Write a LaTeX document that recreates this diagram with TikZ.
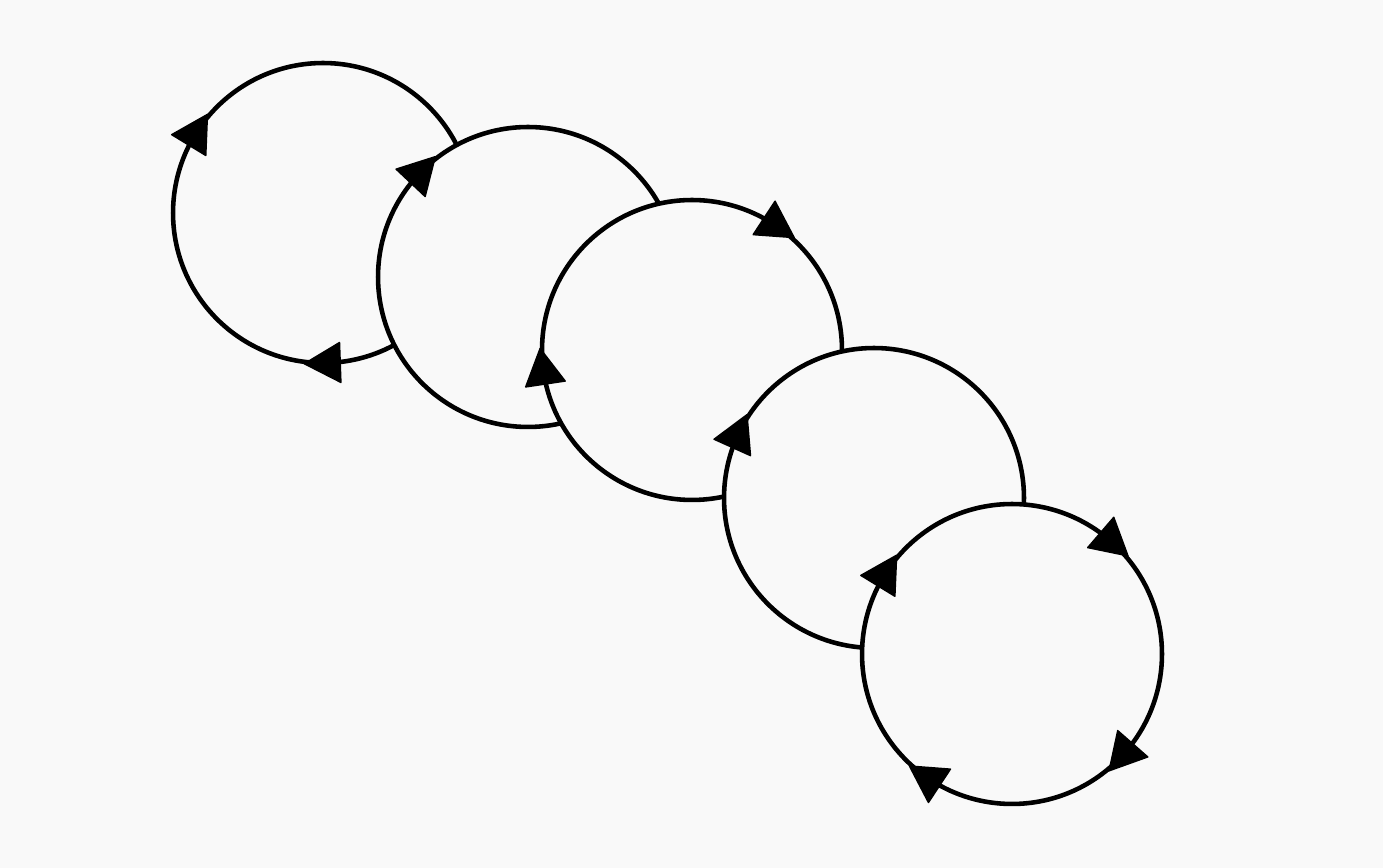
\documentclass[tikz,border=0pt]{standalone}
\definecolor{paper}{gray}{0.975}
\tikzset{
  ring/.style={circle, draw=black, fill=paper, line width=2.6pt, minimum size=6cm, inner sep=0pt, outer sep=0pt},
  tipmark/.style={fill=black, draw=black, line width=0.8pt, line join=round}
}
\newcommand{\cwtip}[2]{% node name, centroid angle (clockwise arrowhead)
  \filldraw[tipmark, shift={(#1.center)}, rotate=#2] (150,-24) -- (170,12) -- (130,12) -- cycle;
}
\begin{document}
\begin{tikzpicture}[x=0.02cm, y=0.02cm]
\fill[paper] (0,0) rectangle (1383,868);
\useasboundingbox (0,0) rectangle (1383,868);
\node[ring] (c1) at (323,655) {};
\cwtip{c1}{148.6}
\cwtip{c1}{272}
\node[ring] (c2) at (528,591) {};
\cwtip{c2}{136.7}
\node[ring] (c3) at (692,518) {};
\cwtip{c3}{56.8}
\cwtip{c3}{188.5}
\node[ring] (c4) at (874,370) {};
\cwtip{c4}{155.8}
\node[ring] (c5) at (1012,214) {};
\cwtip{c5}{148.5}
\cwtip{c5}{49.3}
\cwtip{c5}{-41.2}
\cwtip{c5}{236.6}
\end{tikzpicture}
\end{document}
